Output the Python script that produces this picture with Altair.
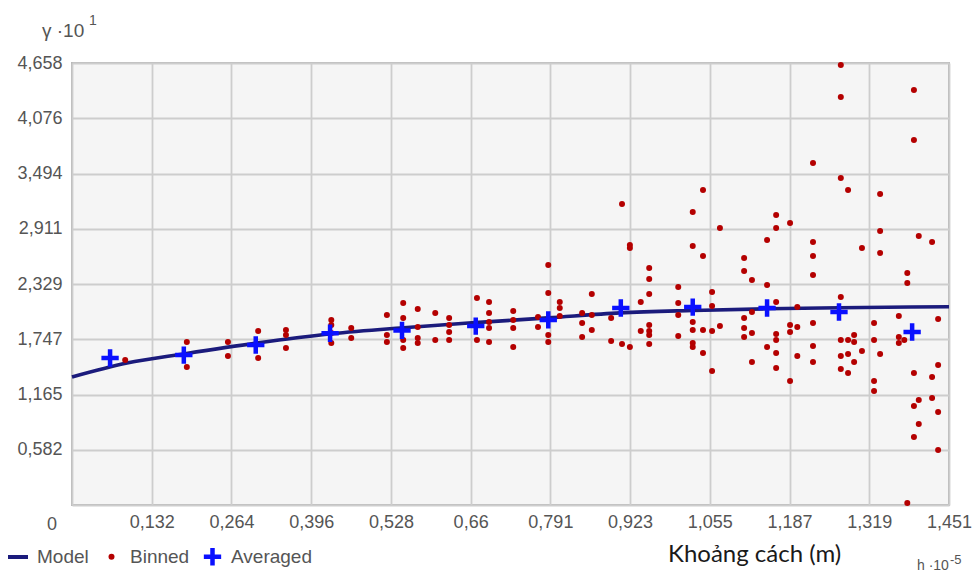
import altair as alt
import pandas as pd

# Axis extents: distance h (x 10^5 m) and semivariance gamma (x 10^1)
X_MAX = 1.451
Y_MAX = 4.658

# Binned semivariance cloud: one distance per column, several gamma values each
bin_h = [0.088, 0.190, 0.258, 0.308, 0.354, 0.429, 0.462, 0.521, 0.548, 0.572,
         0.601, 0.624, 0.670, 0.690, 0.730, 0.771, 0.788, 0.807, 0.844, 0.860,
         0.892, 0.910, 0.923, 0.941, 0.955, 1.003, 1.027, 1.044, 1.059, 1.072,
         1.112, 1.125, 1.150, 1.165, 1.188, 1.200, 1.226, 1.272, 1.284, 1.294,
         1.307, 1.327, 1.337, 1.368, 1.377, 1.382, 1.393, 1.401, 1.423, 1.433]
bin_gamma = [
    [1.528],
    [1.718, 1.454],
    [1.718, 1.570],
    [1.833, 1.549],
    [1.844, 1.791, 1.654],
    [1.949, 1.897, 1.812, 1.707],
    [1.865, 1.760],
    [2.002, 1.791, 1.718],
    [2.129, 1.970, 1.739, 1.654],
    [2.065, 1.876, 1.760, 1.707],
    [2.023, 1.739],
    [1.970, 1.897, 1.823, 1.739],
    [2.181, 1.739],
    [2.139, 2.023, 1.928, 1.865, 1.718],
    [2.044, 1.949, 1.865, 1.665],
    [1.981, 1.876],
    [2.529, 2.234, 1.791, 1.718],
    [2.139, 2.076, 1.992],
    [2.023, 1.918, 1.770],
    [2.223, 2.002, 1.844],
    [1.970, 1.728],
    [3.172, 1.697],
    [2.740, 2.708, 1.665],
    [2.139, 1.833],
    [2.497, 2.381, 2.223, 1.897, 1.833, 1.791, 1.697],
    [2.297, 2.129, 2.002, 1.781],
    [3.087, 2.730, 1.928, 1.844, 1.707, 1.665],
    [3.319, 2.624, 1.844, 1.602],
    [2.244, 2.097, 1.833, 1.412],
    [2.919, 1.886],
    [2.603, 2.466, 1.970, 1.865, 1.770],
    [2.371, 2.034, 1.812, 1.507],
    [2.792, 2.318, 1.665],
    [3.056, 2.919, 2.139, 1.802, 1.739, 1.602, 1.444],
    [2.972, 1.897, 1.823, 1.307],
    [2.086, 1.876, 1.570],
    [3.604, 2.771, 2.624, 2.424, 1.918, 1.675, 1.507],
    [4.636, 4.299, 3.446, 2.192, 1.739, 1.570, 1.433],
    [3.319, 1.739, 1.591, 1.391],
    [1.791, 1.718, 1.507],
    [2.708, 1.623],
    [1.918, 1.739, 1.307, 1.201],
    [3.277, 2.887, 2.655, 1.591],
    [1.992, 1.770, 1.707],
    [1.739],
    [2.445, 2.339, 0.021],
    [4.373, 3.846, 1.391, 1.043, 0.717],
    [2.835, 1.106, 0.854],
    [2.771, 1.349, 1.128],
    [1.960, 1.475, 0.980, 0.580],
]

# Averaged semivariance per lag
avg_h = [0.063, 0.185, 0.304, 0.427, 0.546, 0.668, 0.788, 0.908, 1.027, 1.150, 1.269, 1.390]
avg_gamma = [1.549, 1.580, 1.686, 1.810, 1.840, 1.886, 1.950, 2.076, 2.086, 2.076, 2.034, 1.823]

# Fitted model curve
model_h = [0.0, 0.091, 0.187, 0.306, 0.430, 0.543, 0.667, 0.787, 0.907, 1.027, 1.150, 1.269, 1.451]
model_gamma = [1.349, 1.496, 1.594, 1.707, 1.805, 1.866, 1.922, 1.972, 2.025, 2.050, 2.068, 2.078, 2.090]

series_names = ["Model", "Binned", "Averaged"]
series_colors = ["#1b1b7c", "#b40000", "#0a10ff"]

x_tick_labels = ["0", "0,132", "0,264", "0,396", "0,528", "0,66", "0,791",
                 "0,923", "1,055", "1,187", "1,319", "1,451"]
y_tick_labels = ["0", "0,582", "1,165", "1,747", "2,329", "2,911", "3,494", "4,076", "4,658"]

# Symbol outlines (unit box -1..1): horizontal bar and plus sign
BAR_PATH = "M-1,-0.2H1V0.2H-1Z"
PLUS_PATH = "M-1,-0.26H-0.26V-1H0.26V-0.26H1V0.26H0.26V1H-0.26V0.26H-1Z"

binned = pd.DataFrame({
    "h": [h for h, gs in zip(bin_h, bin_gamma) for _ in gs],
    "gamma": [g for gs in bin_gamma for g in gs],
    "series": "Binned",
})
averaged = pd.DataFrame({"h": avg_h, "gamma": avg_gamma, "series": "Averaged"})
model = pd.DataFrame({"h": model_h, "gamma": model_gamma})

x_step = X_MAX / (len(x_tick_labels) - 1)
y_step = Y_MAX / (len(y_tick_labels) - 1)
x_values = [i * x_step for i in range(len(x_tick_labels))]
y_values = [i * y_step for i in range(len(y_tick_labels))]


def label_expr(labels, step):
    shown = [""] + labels[1:]  # the shared origin "0" is drawn once, separately
    arr = "[" + ",".join("'" + s + "'" for s in shown) + "]"
    return f"{arr}[round(datum.value / {step})]"


LABEL_FONT = "Liberation Sans"
LABEL_COLOR = "#555555"

x_enc = alt.X(
    "h:Q",
    scale=alt.Scale(domain=[0, X_MAX], nice=False, zero=False),
    axis=alt.Axis(values=x_values, labelExpr=label_expr(x_tick_labels, x_step),
                  title=None, ticks=False, domain=False, grid=True,
                  labelFont=LABEL_FONT, labelFontSize=18, labelColor=LABEL_COLOR,
                  labelPadding=8, labelFlush=False, labelOverlap=False),
)
y_enc = alt.Y(
    "gamma:Q",
    scale=alt.Scale(domain=[0, Y_MAX], nice=False, zero=False),
    axis=alt.Axis(values=y_values, labelExpr=label_expr(y_tick_labels, y_step),
                  title=None, ticks=False, domain=False, grid=True,
                  labelFont=LABEL_FONT, labelFontSize=18, labelColor=LABEL_COLOR,
                  labelPadding=10, labelFlush=False, labelOverlap=False),
)

legend = alt.Legend(
    title=None, orient="none", legendX=-64, legendY=484, direction="horizontal",
    labelFont=LABEL_FONT, labelFontSize=19, labelColor=LABEL_COLOR,
    labelOffset=9, columnPadding=13, padding=0, symbolStrokeWidth=0, symbolOpacity=1,
)
color_enc = alt.Color("series:N", scale=alt.Scale(domain=series_names, range=series_colors), legend=legend)
shape_enc = alt.Shape("series:N", scale=alt.Scale(domain=series_names, range=[BAR_PATH, "circle", PLUS_PATH]), legend=legend)
size_enc = alt.Size("series:N", scale=alt.Scale(type="ordinal", domain=series_names, range=[400, 36, 300]), legend=legend)

model_line = alt.Chart(model).mark_line(
    color=series_colors[0], strokeWidth=3.6, interpolate="monotone"
).encode(x=x_enc, y=y_enc)

binned_pts = alt.Chart(binned).mark_point(filled=True, opacity=1, strokeWidth=0).encode(
    x=x_enc, y=y_enc, color=color_enc, shape=shape_enc, size=size_enc
)
averaged_pts = alt.Chart(averaged).mark_point(filled=True, opacity=1, strokeWidth=0).encode(
    x=x_enc, y=y_enc, color=color_enc, shape=shape_enc, size=size_enc
)


def caption(text, x, y, size, font=LABEL_FONT, color=LABEL_COLOR, align="left", baseline="alphabetic"):
    return alt.Chart(pd.DataFrame({"t": [text]})).mark_text(
        font=font, fontSize=size, color=color, align=align, baseline=baseline
    ).encode(x=alt.value(x), y=alt.value(y), text="t:N")


captions = [
    caption("γ ·10", -30, -26, 19),
    caption("1", 17, -38, 14),
    caption("0", -20, 462, 18, align="center", baseline="middle"),
    caption("Khoảng cách (m)", 596, 499, 24, font="Lato", color="#1a1a1a"),
    caption("h ·10", 845, 507, 14),
    caption("-5", 878, 501, 13),
]

chart = alt.layer(model_line, binned_pts, averaged_pts, *captions).properties(
    width=877, height=442,
    autosize=alt.AutoSizeParams(type="none"),
    padding={"left": 72, "top": 63, "right": 31, "bottom": 67},
    background="white",
).configure_view(
    fill="#f5f5f5", stroke="#b8b8b8", strokeWidth=2
).configure_axis(
    gridColor="#cdcdcd", gridWidth=1.8, gridOpacity=1
)

chart.save("out.html", embed_options={"renderer": "svg", "actions": False})
